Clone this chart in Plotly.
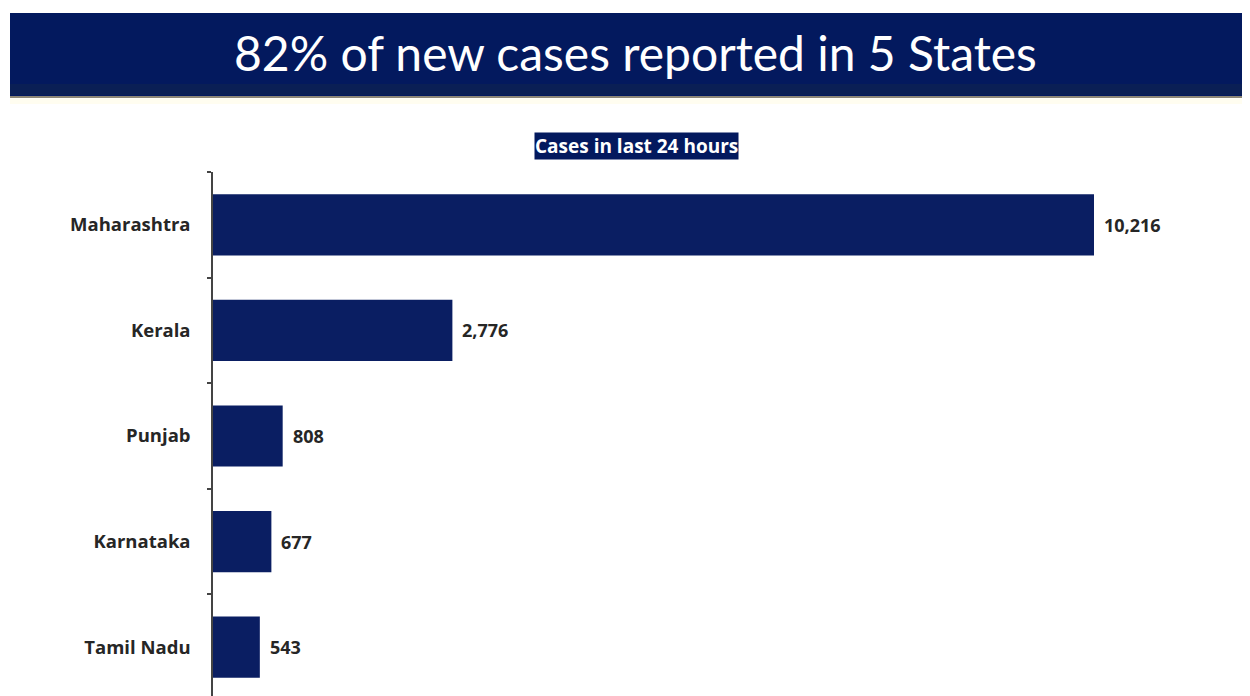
import plotly.graph_objects as go

states = ["Maharashtra", "Kerala", "Punjab", "Karnataka", "Tamil Nadu"]
cases = [10216, 2776, 808, 677, 543]
title_text = "82% of new cases reported in 5 States"
subtitle_text = "Cases in last 24 hours"

# page body has an 8px margin; work in reference-screen pixels and convert
OFF = 8
W, H = 1250 - OFF, 696 - OFF
ML, MR, MT, MB = 213 - OFF, 50, 172 - OFF, 0
PW = W - ML - MR
PH = H - MT - MB

def px(x):
    return (x - OFF - ML) / PW

def py(y):
    return (H - MB - (y - OFF)) / PH

NAVY = "#03195e"
BAR = "#0a1e62"
TXT = "#262626"
FONT = "Open Sans"

fig = go.Figure()
fig.add_trace(go.Bar(
    y=states, x=cases, orientation="h",
    marker=dict(color=BAR, line=dict(width=0)),
    hoverinfo="x+y",
))

annotations = []
for s, v in zip(states, cases):
    annotations.append(dict(
        x=v, y=s, xref="x", yref="y", text=f"<b>{v:,}</b>",
        showarrow=False, xanchor="left", xshift=8,
        font=dict(family=FONT, size=18, color=TXT),
    ))

annotations.append(dict(
    x=px(635), y=py(52), xref="paper", yref="paper",
    text=title_text, showarrow=False, xanchor="center", yanchor="middle",
    font=dict(family="Lato", size=48, color="white"),
))
annotations.append(dict(
    x=px(636), y=py(146), xref="paper", yref="paper",
    text=f"<b>{subtitle_text}</b>", showarrow=False, xanchor="center", yanchor="middle",
    font=dict(family=FONT, size=19, color="white"),
    bgcolor=NAVY, borderpad=0,
))

shapes = [
    dict(type="rect", xref="paper", yref="paper",
         x0=px(10), x1=px(1260), y0=py(96), y1=py(13),
         fillcolor=NAVY, line=dict(width=0), layer="below"),
    dict(type="rect", xref="paper", yref="paper",
         x0=px(10), x1=px(1260), y0=py(95), y1=py(84),
         fillcolor="#0a1f55", line=dict(width=0), layer="below"),
    dict(type="line", xref="paper", yref="paper",
         x0=px(10), x1=px(1260), y0=py(97), y1=py(97),
         line=dict(color="#8c8676", width=2)),
    dict(type="rect", xref="paper", yref="paper",
         x0=px(10), x1=px(1260), y0=py(104), y1=py(98.5),
         fillcolor="#fffdf0", line=dict(width=0), layer="below"),
]

fig.update_layout(
    width=W, height=H,
    margin=dict(l=ML, r=MR, t=MT, b=MB),
    paper_bgcolor="white", plot_bgcolor="white",
    showlegend=False,
    bargap=0.42,
    annotations=annotations,
    shapes=shapes,
    xaxis=dict(range=[0, PW / ((1095 - 214) / 10216)], showticklabels=False,
               showgrid=False, zeroline=False, showline=False, ticks=""),
    yaxis=dict(type="category", categoryorder="array", categoryarray=states,
               range=[-0.5 + (696 - 172) / 105.6, -0.5],
               tickson="boundaries", ticks="outside", ticklen=4, tickwidth=1.5,
               tickcolor="#444", showline=True, linecolor="#444", linewidth=1.5,
               showgrid=False, zeroline=False,
               ticklabelstandoff=17,
               tickfont=dict(family=FONT, size=18.5, color=TXT, weight="bold")),
)

fig.write_html("out.html")
